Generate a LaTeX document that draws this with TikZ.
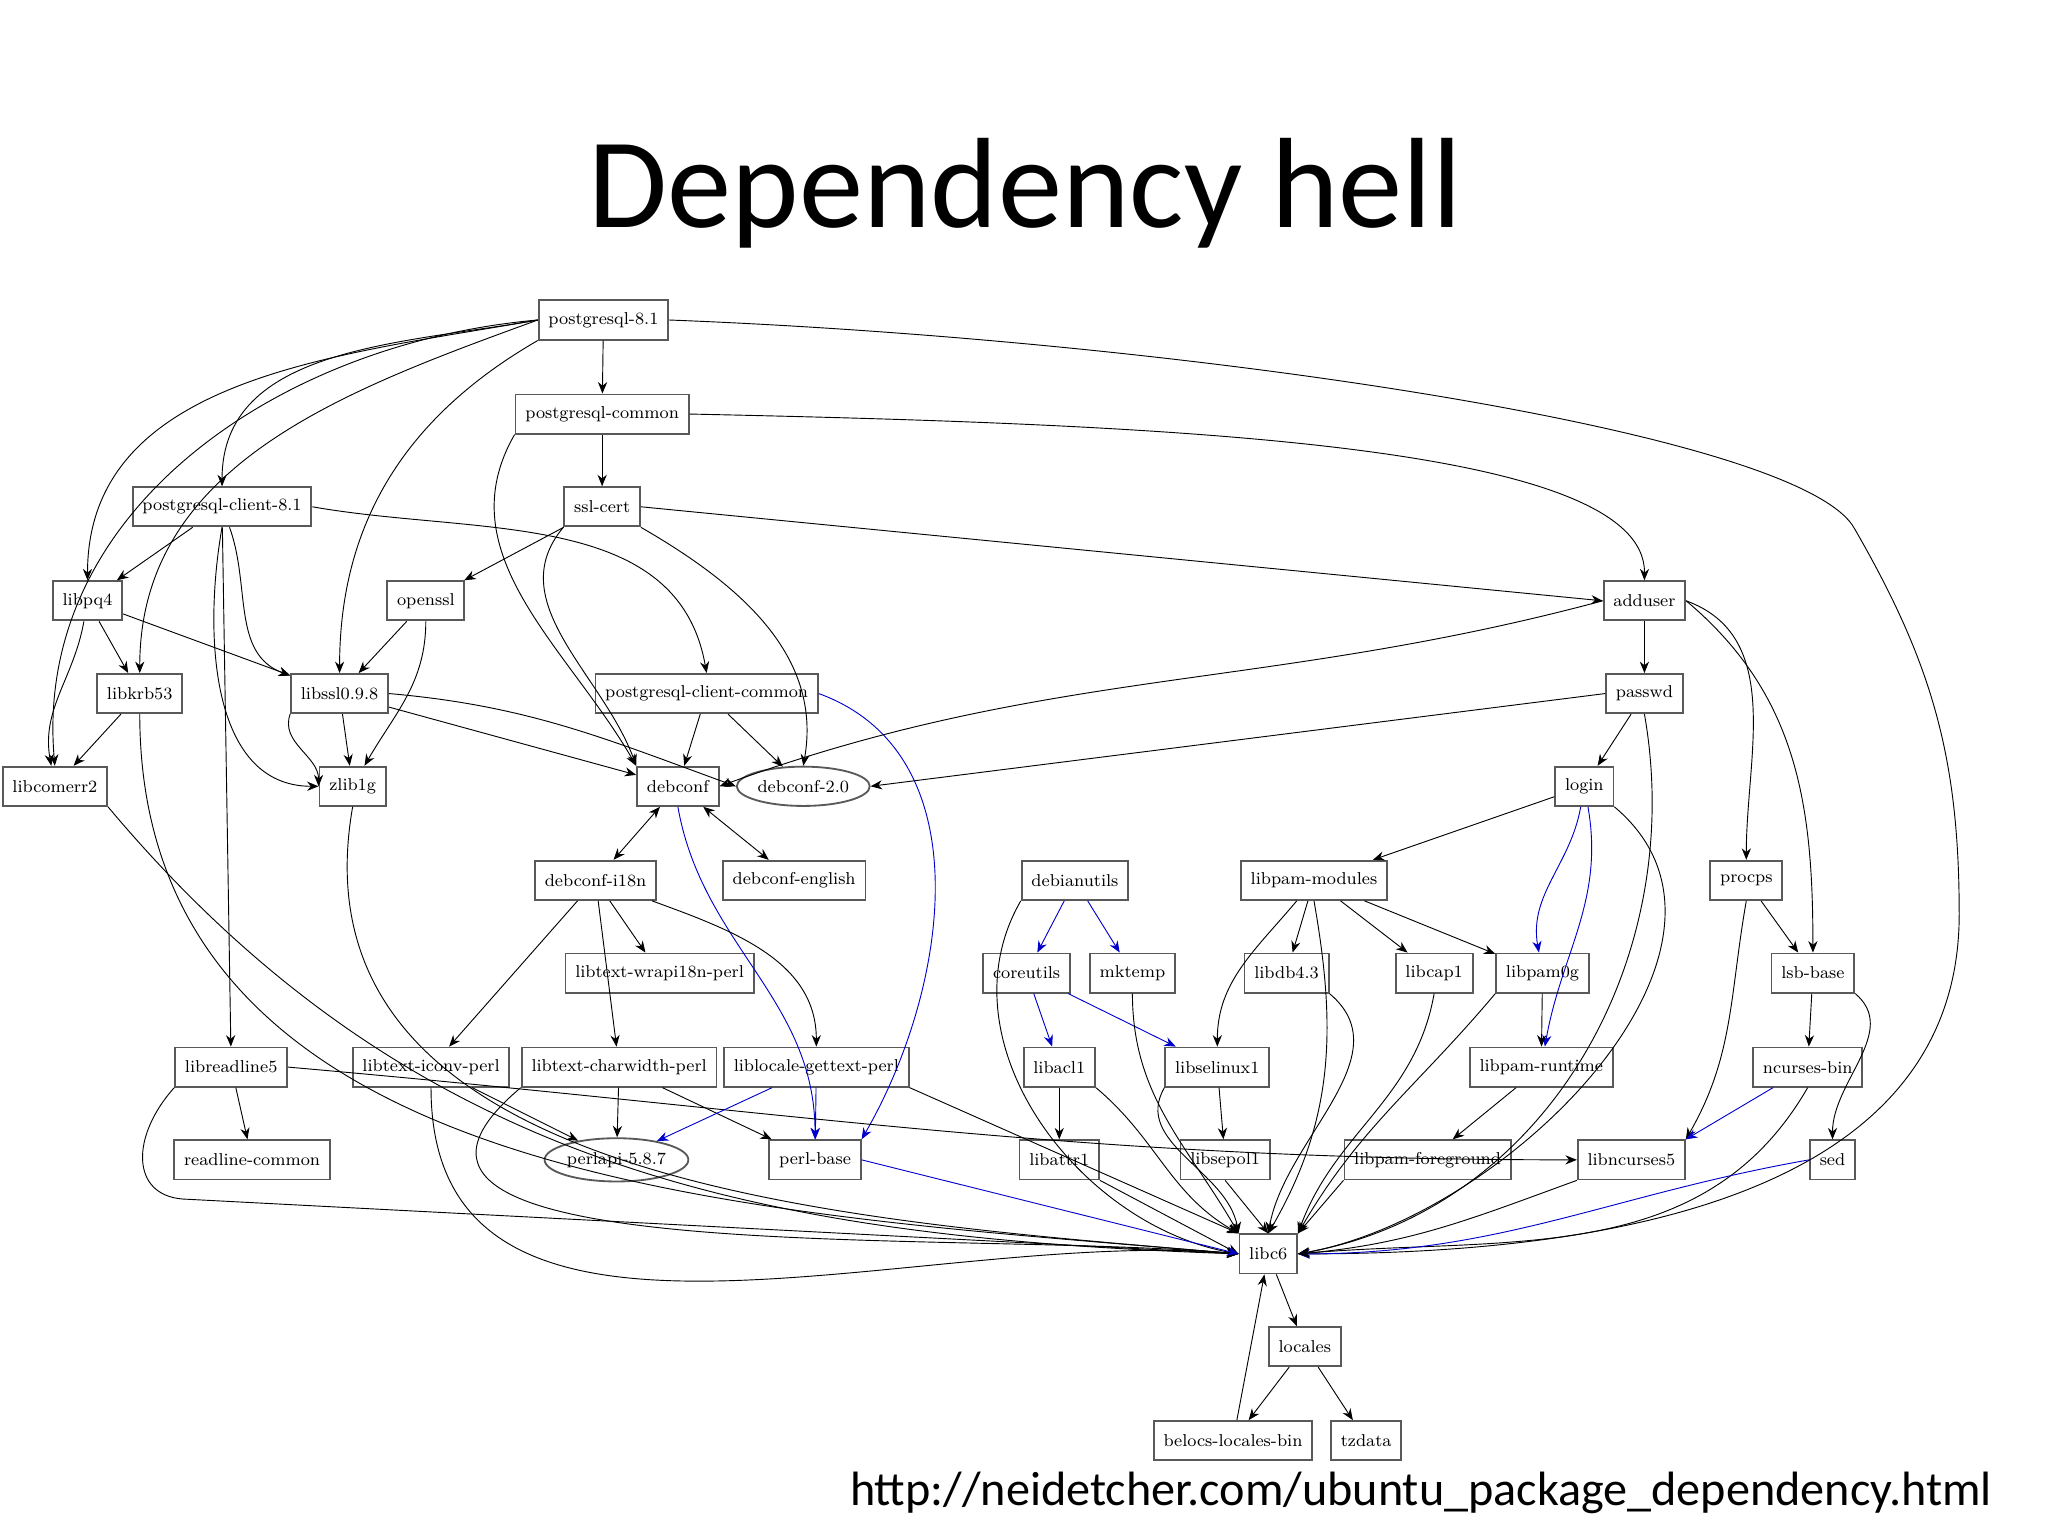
\documentclass[tikz,border=0pt]{standalone}
\usepackage{fontspec}
\newfontfamily\titlefont{Carlito}
\usetikzlibrary{arrows.meta,shapes.geometric}
\begin{document}
\begin{tikzpicture}[x=0.02cm,y=-0.02cm,>={Stealth[length=5pt,width=4pt]},
  pkg/.style={draw,thick,gray!70!black,text=black,font=\fontsize{7.5}{9}\selectfont,minimum height=0.6cm,inner xsep=0.15cm},
  ell/.style={pkg,ellipse,inner xsep=0.02cm},
  dep/.style={->,black,thin},
  bdep/.style={->,blue!80!black,thin}]
\useasboundingbox (0,0) rectangle (1568,1176);
\node[font=\titlefont\fontsize{56}{64}\selectfont] (title) at (785,148) {Dependency hell};
\node[font=\titlefont\fontsize{21}{24}\selectfont] (url) at (1088,1143) {http://neidetcher.com/ubuntu\_package\_dependency.html};

\node[pkg] (pg) at (462,245) {postgresql-8.1};
\node[pkg] (pgc) at (461,317) {postgresql-common};
\node[pkg] (pgcl) at (170,388) {postgresql-client-8.1};
\node[pkg] (ssl) at (461,388) {ssl-cert};
\node[pkg] (pq) at (67,460) {libpq4};
\node[pkg] (ossl) at (326,460) {openssl};
\node[pkg] (addu) at (1259,460) {adduser};
\node[pkg] (krb) at (107,531) {libkrb53};
\node[pkg] (lssl) at (260,531) {libssl0.9.8};
\node[pkg] (pgcc) at (541,531) {postgresql-client-common};
\node[pkg] (pwd) at (1259,531) {passwd};
\node[pkg] (err) at (42,602) {libcomerr2};
\node[pkg] (zlib) at (270,602) {zlib1g};
\node[pkg] (dc) at (519,602) {debconf};
\node[ell] (dc2) at (615,602) {debconf-2.0};
\node[pkg] (login) at (1213,602) {login};
\node[pkg] (dci) at (456,674) {debconf-i18n};
\node[pkg] (dce) at (608,674) {debconf-english};
\node[pkg] (dbu) at (823,674) {debianutils};
\node[pkg] (pamm) at (1006,674) {libpam-modules};
\node[pkg] (procps) at (1337,674) {procps};
\node[pkg] (wrap) at (505,745) {libtext-wrapi18n-perl};
\node[pkg] (core) at (786,745) {coreutils};
\node[pkg] (mkt) at (867,745) {mktemp};
\node[pkg] (db) at (985,745) {libdb4.3};
\node[pkg] (cap) at (1098,745) {libcap1};
\node[pkg] (pam0) at (1181,745) {libpam0g};
\node[pkg] (lsb) at (1388,745) {lsb-base};
\node[pkg] (rl) at (177,817) {libreadline5};
\node[pkg] (iconv) at (330,817) {libtext-iconv-perl};
\node[pkg] (cw) at (474,817) {libtext-charwidth-perl};
\node[pkg] (lg) at (625,817) {liblocale-gettext-perl};
\node[pkg] (acl) at (811,817) {libacl1};
\node[pkg] (sel) at (932,817) {libselinux1};
\node[pkg] (pamr) at (1180,817) {libpam-runtime};
\node[pkg] (ncb) at (1384,817) {ncurses-bin};
\node[pkg] (rlc) at (193,888) {readline-common};
\node[ell] (papi) at (472,888) {perlapi-5.8.7};
\node[pkg] (pb) at (624,888) {perl-base};
\node[pkg] (attr) at (811,888) {libattr1};
\node[pkg] (sep) at (938,888) {libsepol1};
\node[pkg] (pamf) at (1093,888) {libpam-foreground};
\node[pkg] (nc5) at (1249,888) {libncurses5};
\node[pkg] (sed) at (1403,888) {sed};
\node[pkg] (c6) at (971,960) {libc6};
\node[pkg] (loc) at (999,1031) {locales};
\node[pkg] (bel) at (944,1103) {belocs-locales-bin};
\node[pkg] (tz) at (1046,1103) {tzdata};

% postgresql-8.1
\draw[dep] (pg) -- (pgc);
\draw[dep] (pg.west) to[out=190,in=90] (pgcl.north);
\draw[dep] (pg.west) to[out=190,in=90] (pq.north);
\draw[dep] (pg.west) to[out=200,in=90] (krb.north);
\draw[dep] (pg.south west) to[out=-150,in=90] (lssl.north);
\draw[dep] (pg.west) to[out=185,in=95] (err.north);
\draw[dep] (pg.east) .. controls (900,260) and (1380,330) .. (1420,405) to[out=-60,in=90] (1500,700) to[out=-90,in=0] (c6.east);
% postgresql-common
\draw[dep] (pgc) -- (ssl);
\draw[dep] (pgc.south west) to[out=-120,in=120] (dc.north west);
\draw[dep] (pgc.east) .. controls (900,325) and (1260,340) .. (addu.north);
% postgresql-client-8.1
\draw[dep] (pgcl) -- (pq);
\draw[dep] (pgcl) to[out=-70,in=160] (lssl);
\draw[dep] (pgcl.east) to[out=-10,in=100] (pgcc.north);
\draw[dep] (pgcl) -- (rl);
\draw[dep] (pgcl.south) to[out=-100,in=180] (zlib.west);
% ssl-cert
\draw[dep] (ssl) -- (ossl);
\draw[dep] (ssl.east) -- (addu.west);
\draw[dep] (ssl.south west) to[out=-130,in=110] (dc.north west);
\draw[dep] (ssl.south east) to[out=-30,in=80] (dc2.north);
% libpq4
\draw[dep] (pq) -- (krb);
\draw[dep] (pq) -- (lssl);
\draw[dep] (pq) to[out=-100,in=100] (err);
% openssl
\draw[dep] (ossl) -- (lssl);
\draw[dep] (ossl) to[out=-90,in=60] (zlib);
% libkrb53
\draw[dep] (krb) -- (err);
\draw[dep] (krb.south) to[out=-90,in=175] (c6.west);
\draw[dep] (err.south east) to[out=-50,in=178] (c6.west);
% libssl
\draw[dep] (lssl) -- (zlib);
\draw[dep] (lssl) -- (dc);
\draw[dep] (lssl.east) to[out=-5,in=160] (dc2.west);
\draw[dep] (lssl.south west) to[out=-110,in=90] (zlib.west);
% zlib
\draw[dep] (zlib.south) to[out=-100,in=175] (c6.west);
% postgresql-client-common
\draw[dep] (pgcc) -- (dc2);
\draw[dep] (pgcc) -- (dc);
\draw[bdep] (pgcc.east) to[out=-20,in=60] (pb.north east);
% adduser
\draw[dep] (addu) -- (pwd);
\draw[dep] (addu.west) to[out=195,in=20] (dc.east);
\draw[dep] (addu.east) to[out=-20,in=90] (procps.north);
\draw[dep] (addu.east) to[out=-40,in=90] (lsb.north);
% passwd
\draw[dep] (pwd) -- (login);
\draw[dep] (pwd.west) -- (dc2.east);
\draw[dep] (pwd.south) to[out=-80,in=10] (c6.east);
% login
\draw[dep] (login) -- (pamm);
\draw[bdep] (login) to[out=-100,in=100] (pam0);
\draw[bdep] (login) to[out=-80,in=80] (pamr);
\draw[dep] (login.south east) to[out=-40,in=10] (c6.east);
% debconf
\draw[<->,black] (dc) -- (dci);
\draw[<->,black] (dc) -- (dce);
\draw[bdep] (dc.south) to[out=-80,in=90] (pb.north);
% debconf-i18n
\draw[dep] (dci) -- (wrap);
\draw[dep] (dci) -- (iconv);
\draw[dep] (dci) -- (cw);
\draw[dep] (dci) to[out=-20,in=90] (lg);
% debianutils
\draw[bdep] (dbu) -- (core);
\draw[bdep] (dbu) -- (mkt);
\draw[dep] (dbu.south west) to[out=-120,in=170] (c6.west);
% coreutils, mktemp
\draw[bdep] (core) -- (acl);
\draw[bdep] (core) -- (sel);
\draw[dep] (mkt) to[out=-90,in=120] (c6.north west);
% libpam-modules
\draw[dep] (pamm) -- (db);
\draw[dep] (pamm) -- (cap);
\draw[dep] (pamm) -- (pam0);
\draw[dep] (pamm) to[out=-130,in=90] (sel.north);
\draw[dep] (pamm.south) to[out=-80,in=60] (c6.north);
\draw[dep] (db.south east) to[out=-40,in=80] (c6.north);
\draw[dep] (cap.south) to[out=-100,in=70] (c6.north east);
% libpam0g
\draw[dep] (pam0) -- (pamr);
\draw[dep] (pam0.south west) to[out=-130,in=60] (c6.north east);
\draw[dep] (pamr) -- (pamf);
% procps
\draw[dep] (procps) -- (lsb);
\draw[dep] (procps.south) to[out=-100,in=60] (nc5.north east);
\draw[dep] (lsb) -- (ncb);
\draw[dep] (lsb.south east) to[out=-40,in=90] (sed.north);
\draw[bdep] (ncb) -- (nc5.north east);
\draw[dep] (ncb.south) to[out=-120,in=5] (c6.east);
\draw[bdep] (sed.west) to[out=-170,in=0] (c6.east);
\draw[dep] (nc5.south west) to[out=-160,in=5] (c6.east);
% libacl1, libselinux1
\draw[dep] (acl) -- (attr);
\draw[dep] (acl.south east) to[out=-40,in=150] (c6.north west);
\draw[dep] (sel) -- (sep);
\draw[dep] (sel.south west) to[out=-120,in=100] (c6.north west);
\draw[dep] (attr.south east) -- (c6.west);
\draw[dep] (sep.south) -- (c6.north);
\draw[dep] (pamf.south west) -- (c6.north east);
% libreadline5
\draw[dep] (rl) -- (rlc);
\draw[dep] (rl.east) to[out=-5,in=180] (nc5.west);
\draw[dep] (rl.south west) .. controls (100,870) and (100,915) .. (140,918) -- (c6.west);
% perl
\draw[dep] (iconv) -- (papi);
\draw[dep] (iconv.south) to[out=-90,in=175] (c6.west);
\draw[dep] (cw) -- (papi);
\draw[dep] (cw) -- (pb);
\draw[dep] (cw.south west) to[out=-140,in=175] (c6.west);
\draw[bdep] (lg) -- (papi);
\draw[bdep] (lg) -- (pb);
\draw[dep] (lg.south east) -- (c6.north west);
\draw[bdep] (pb.east) -- (c6.west);
% locales
\draw[dep] (c6) -- (loc);
\draw[dep] (loc) -- (bel);
\draw[dep] (loc) -- (tz);
\draw[dep] (bel) -- (c6);
\end{tikzpicture}
\end{document}
